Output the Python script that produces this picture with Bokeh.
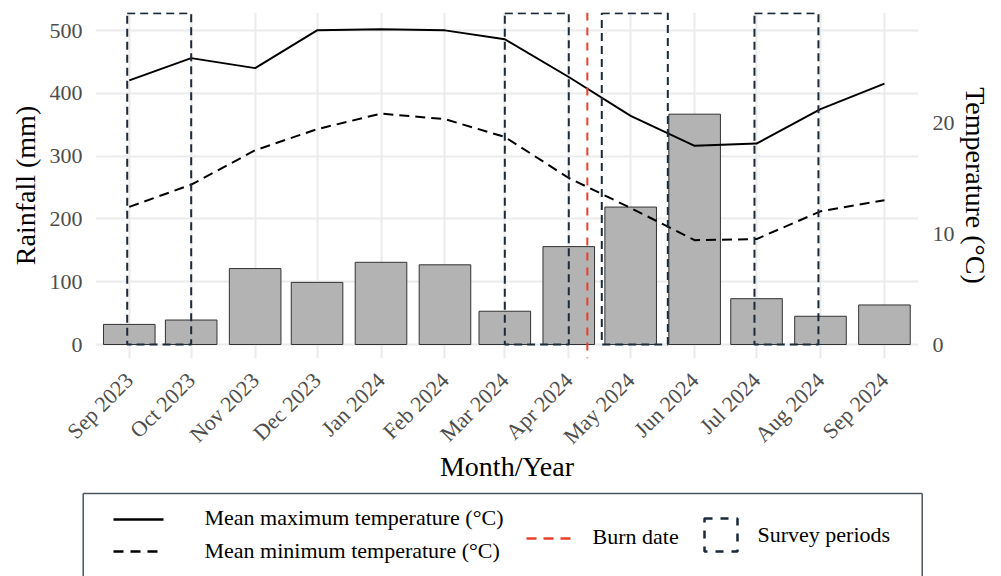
import math
import pandas as pd
from bokeh.plotting import figure
from bokeh.models import Range1d, LinearAxis, FixedTicker, Span
from bokeh.embed import file_html
from bokeh.resources import INLINE
from bokeh.core.properties import value

# ---------------- data ----------------
months = ["2023-09-01", "2023-10-01", "2023-11-01", "2023-12-01", "2024-01-01",
          "2024-02-01", "2024-03-01", "2024-04-01", "2024-05-01", "2024-06-01",
          "2024-07-01", "2024-08-01", "2024-09-01"]
tick_labels = ["Sep 2023", "Oct 2023", "Nov 2023", "Dec 2023", "Jan 2024", "Feb 2024",
               "Mar 2024", "Apr 2024", "May 2024", "Jun 2024", "Jul 2024", "Aug 2024",
               "Sep 2024"]
rainfall_mm = [32, 39, 121, 99, 131, 127, 53, 156, 219, 367, 73, 45, 63]
tmax_c = [23.8, 25.8, 24.9, 28.3, 28.4, 28.3, 27.5, 24.1, 20.6, 17.9, 18.1, 21.2, 23.5]
tmin_c = [12.4, 14.4, 17.5, 19.4, 20.8, 20.3, 18.7, 15.0, 12.3, 9.4, 9.5, 12.0, 13.0]
burn_date = "2024-04-10"
survey_start = ["2023-08-31", "2024-03-01", "2024-04-17", "2024-06-30"]
survey_end = ["2023-10-01", "2024-04-01", "2024-05-19", "2024-07-31"]
survey_top_mm = 528
rain_ticks = [0, 100, 200, 300, 400, 500]
temp_ticks = [0, 10, 20]

FONT = "Liberation Serif"
DAY_MS = 86400000

dates = pd.to_datetime(months)
month_ms = [int(d.value // 10**6) for d in dates]

# ---------------- main figure ----------------
p = figure(width=1001, height=485, x_axis_type="datetime",
           x_range=Range1d(pd.Timestamp("2023-08-15 15:00"), pd.Timestamp("2024-09-17 12:00")),
           y_range=Range1d(-22.3, 529),
           output_backend="svg", toolbar_location=None,
           min_border_left=95, min_border_right=83, min_border_top=12, min_border_bottom=127)
p.outline_line_color = None
p.extra_y_ranges = {"temp": Range1d(-1.26, 29.91)}

# bars
p.vbar(x=dates, top=rainfall_mm, bottom=0, width=25 * DAY_MS,
       fill_color="#b3b3b3", line_color="#333333", line_width=1)

# temperature lines
p.line(x=dates, y=tmax_c, y_range_name="temp", line_color="black", line_width=2)
p.line(x=dates, y=tmin_c, y_range_name="temp", line_color="black", line_width=2,
       line_dash="10 6")

# survey periods
p.quad(left=pd.to_datetime(survey_start), right=pd.to_datetime(survey_end),
       bottom=0, top=survey_top_mm, fill_color=None,
       line_color="#1b2a3a", line_width=2, line_dash="8 5")

# burn date
p.add_layout(Span(location=pd.Timestamp(burn_date), dimension="height",
                  line_color="#e8402a", line_width=2, line_dash="8 7"))

# axes
xticker = FixedTicker(ticks=month_ms)
p.xaxis.ticker = xticker
p.xgrid.ticker = xticker
p.xaxis.major_label_overrides = {ms: lab for ms, lab in zip(month_ms, tick_labels)}
p.xaxis.major_label_orientation = math.pi / 4
p.xaxis.axis_label = "Month/Year"

p.yaxis.ticker = FixedTicker(ticks=rain_ticks)
p.ygrid.ticker = FixedTicker(ticks=rain_ticks)
p.yaxis.axis_label = "Rainfall (mm)"

raxis = LinearAxis(y_range_name="temp", ticker=FixedTicker(ticks=temp_ticks),
                   axis_label="Temperature (°C)")
p.add_layout(raxis, "right")

for ax in [p.xaxis[0], p.yaxis[0], raxis]:
    ax.axis_line_color = None
    ax.major_tick_line_color = None
    ax.minor_tick_line_color = None
    ax.major_tick_out = 0
    ax.major_tick_in = 0
    ax.minor_tick_out = 0
    ax.minor_tick_in = 0
    ax.major_label_text_font = FONT
    ax.major_label_text_font_size = "22px"
    ax.major_label_text_color = "#4d4d4d"
    ax.axis_label_text_font = FONT
    ax.axis_label_text_font_size = "28px"
    ax.axis_label_text_font_style = "normal"
    ax.axis_label_text_color = "black"

p.yaxis[0].major_label_standoff = 13
p.yaxis[0].axis_label_standoff = 6
raxis.major_label_standoff = 14
raxis.axis_label_standoff = 2
p.xaxis[0].major_label_standoff = 18
p.xaxis[0].axis_label_standoff = -10

for g in [p.xgrid[0], p.ygrid[0]]:
    g.grid_line_color = "#ebebeb"
    g.grid_line_width = 2

# ---------------- legend figure (page-pixel coordinates) ----------------
lg = figure(width=1001, height=91, x_range=Range1d(0, 1001), y_range=Range1d(576, 485),
            output_backend="svg", toolbar_location=None,
            min_border_left=0, min_border_right=0, min_border_top=0, min_border_bottom=0)
lg.axis.visible = False
lg.grid.visible = False
lg.outline_line_color = None

lg.segment(x0=[82.7, 82.7, 921.7], y0=[493, 493, 493], x1=[921.7, 82.7, 921.7],
           y1=[493, 590, 590], line_color="#4a5560", line_width=1.5)
lg.segment(x0=[113], y0=[519], x1=[163], y1=[519], line_color="black", line_width=2.5)
lg.segment(x0=[113], y0=[551], x1=[163], y1=[551], line_color="black", line_width=2.5,
           line_dash="10 7")
lg.segment(x0=[526], y0=[538], x1=[576], y1=[538], line_color="#e8402a", line_width=2.5,
           line_dash="10 7")
lg.quad(left=[704], right=[737], top=[518], bottom=[551], fill_color=None,
        line_color="#1b2a3a", line_width=2.5, line_dash="8 8")

legend_texts = ["Mean maximum temperature (°C)", "Mean minimum temperature (°C)",
                "Burn date", "Survey periods"]
lg.text(x=[204, 204, 592, 757], y=[517, 550, 536, 534], text=legend_texts,
        text_font=value(FONT), text_font_size="22px", text_baseline="middle",
        text_align="left", text_color="black")

open("out.html", "w").write(file_html([p, lg], INLINE))
